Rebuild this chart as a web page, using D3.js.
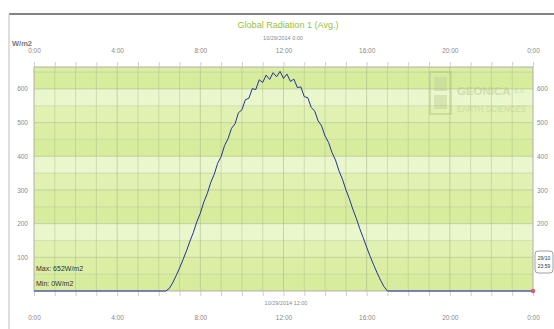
<!DOCTYPE html>
<html>
<head>
<meta charset="utf-8">
<script src="https://cdn.jsdelivr.net/npm/d3@7"></script>
<style>
body { margin: 0; background: #fff; }
svg { display: block; font-family: "Liberation Sans", Arial, sans-serif; }
</style>
</head>
<body>
<svg id="chart" width="554" height="329"></svg>
<script>
// data
var radTimes = ["00:00","06:20","06:30","06:40","06:50","07:00","07:10","07:20","07:30","07:40","07:50",
  "08:00","08:10","08:20","08:30","08:40","08:50","09:00","09:10","09:20","09:30","09:40","09:50",
  "10:00","10:10","10:20","10:30","10:40","10:50","11:00","11:10","11:20","11:30","11:40","11:50",
  "12:00","12:10","12:20","12:30","12:40","12:50","13:00","13:10","13:20","13:30","13:40","13:50",
  "14:00","14:10","14:20","14:30","14:40","14:50","15:00","15:10","15:20","15:30","15:40","15:50",
  "16:00","16:10","16:20","16:30","16:40","16:50","17:00","23:59"];
var radValues = [0,0,7,24,45,68,93,119,148,174,206,
  231,264,289,322,346,379,399,432,452,483,496,529,
  538,568,572,601,598,627,619,641,628,648,636,652,
  631,644,622,629,604,606,577,574,545,534,505,490,
  460,441,411,389,357,332,301,274,243,216,185,158,
  130,103,78,54,32,13,0,0];

var xTickHours = [0,4,8,12,16,20,24];
var xTickLabels = ["0:00","4:00","8:00","12:00","16:00","20:00","0:00"];
var yTicks = [100,200,300,400,500,600];
var yTicksRight = [200,300,400,500,600]; // 100 sits under the end-of-data box
var bandColors = ["#d8ec9e","#dbeea4","#e1f1b2","#eaf6cb"];

var svg = d3.select("#chart");
var plotLeft = 34, plotRight = 533, plotTop = 67, plotBottom = 291;

var x = d3.scaleLinear().domain([0, 24*60]).range([plotLeft, plotRight]);
var y = d3.scaleLinear().domain([0, 665]).range([plotBottom, plotTop]);

function toMin(s){ var p = s.split(":"); return +p[0]*60 + +p[1]; }
var data = radTimes.map(function(t,i){ return {t: toMin(t), v: radValues[i]}; });

// outer frame
svg.append("line").attr("x1",9).attr("x2",554).attr("y1",14).attr("y2",14)
  .attr("stroke","#5a5a5a").attr("stroke-width",1.5);
svg.append("line").attr("x1",9).attr("x2",9).attr("y1",14).attr("y2",329)
  .attr("stroke","#c8c8c8").attr("stroke-width",1.2);

// bands
var bands = d3.range(0, 665, 50);
svg.append("g").selectAll("rect")
  .data(bands)
  .enter()
  .append("rect")
    .attr("x", plotLeft)
    .attr("width", plotRight-plotLeft)
    .attr("y", function(d){ return y(Math.min(d+50, 665)); })
    .attr("height", function(d){ return y(d) - y(Math.min(d+50, 665)); })
    .attr("fill", function(d,i){ return bandColors[i % 4]; });

// watermark
var wm = svg.append("g").attr("opacity",0.5);
wm.append("rect").attr("x",430).attr("y",72).attr("width",21).attr("height",42)
  .attr("fill","none").attr("stroke","#b9c98e").attr("stroke-width",2);
wm.append("rect").attr("x",434).attr("y",77).attr("width",13).attr("height",14).attr("fill","#c2d399");
wm.append("rect").attr("x",434).attr("y",95).attr("width",13).attr("height",14).attr("fill","#c2d399");
wm.append("text").attr("x",457).attr("y",95).text("GEONICA")
  .attr("font-size",11.5).attr("font-weight","bold").attr("fill","#b9c98e");
wm.append("text").attr("x",514).attr("y",93).text("S.A.")
  .attr("font-size",6).attr("fill","#b9c98e");
wm.append("text").attr("x",457).attr("y",112).text("EARTH SCIENCES")
  .attr("font-size",9).attr("fill","#b9c98e")
  .attr("textLength",69).attr("lengthAdjust","spacingAndGlyphs");

// grid
var grid = svg.append("g").attr("stroke","#a3b784").attr("stroke-width",0.6);
grid.selectAll("line.h")
  .data(d3.range(50, 665, 50))
  .enter()
  .append("line")
    .attr("x1", plotLeft).attr("x2", plotRight)
    .attr("y1", function(d){ return y(d); }).attr("y2", function(d){ return y(d); })
    .attr("stroke-opacity", function(d){ return d % 100 == 0 ? 0.9 : 0.6; });
grid.selectAll("line.v")
  .data(d3.range(1, 24))
  .enter()
  .append("line")
    .attr("y1", plotTop).attr("y2", plotBottom)
    .attr("x1", function(d){ return x(d*60); }).attr("x2", function(d){ return x(d*60); })
    .attr("stroke-opacity", function(d){ return d % 4 == 0 ? 0.9 : 0.65; });

// plot border
svg.append("rect").attr("x",plotLeft).attr("y",plotTop).attr("width",plotRight-plotLeft).attr("height",plotBottom-plotTop)
  .attr("fill","none").attr("stroke","#a0a0a0").attr("stroke-width",0.8);

// axes
function styleAxis(g){
  g.select(".domain").remove();
  g.selectAll(".tick line").attr("stroke","#cfcfcf");
  g.selectAll("text").attr("fill","#8a8a8a").attr("font-size",6.5);
}
var hourTicks = d3.range(0, 25).map(function(h){ return h*60; });
function hourFmt(d){
  var i = xTickHours.indexOf(d/60);
  return i < 0 ? "" : xTickLabels[i];
}
svg.append("g").attr("transform","translate(0,"+plotTop+")")
  .call(d3.axisTop(x).tickValues(hourTicks).tickSize(5).tickPadding(9).tickFormat(hourFmt))
  .call(styleAxis);
svg.append("g").attr("transform","translate(0,"+plotBottom+")")
  .call(d3.axisBottom(x).tickValues(hourTicks).tickSize(5).tickPadding(19).tickFormat(hourFmt))
  .call(styleAxis);
svg.append("g").attr("transform","translate("+plotLeft+",0)")
  .call(d3.axisLeft(y).tickValues(yTicks).tickSize(0).tickPadding(6))
  .call(styleAxis);
svg.append("g").attr("transform","translate("+plotRight+",0)")
  .call(d3.axisRight(y).tickValues(yTicksRight).tickSize(0).tickPadding(4))
  .call(styleAxis);

// series line
var line = d3.line()
  .x(function(d){ return x(d.t); })
  .y(function(d){ return y(d.v); });
svg.append("path")
  .datum(data)
  .attr("d", line)
  .attr("fill","none")
  .attr("stroke","#23339a")
  .attr("stroke-width",1);

var last = data[data.length-1];
svg.append("circle").attr("cx", x(24*60)).attr("cy", y(last.v)).attr("r",2.2)
  .attr("fill","#e35a6a");

// titles
svg.append("text").attr("x",288).attr("y",28).attr("text-anchor","middle")
  .text("Global Radiation 1 (Avg.)")
  .attr("font-size",9).attr("fill","#94c43a")
  .attr("textLength",101).attr("lengthAdjust","spacingAndGlyphs");
svg.append("text").attr("x",283).attr("y",40).attr("text-anchor","middle")
  .text("10/29/2014 0:00").attr("font-size",5.5).attr("fill","#8a8a8a");
svg.append("text").attr("x",286).attr("y",305).attr("text-anchor","middle")
  .text("10/29/2014 12:00").attr("font-size",5.5).attr("fill","#8a8a8a");
svg.append("text").attr("x",12).attr("y",46)
  .text("W/m2").attr("font-size",7.5).attr("font-weight","bold").attr("fill","#777");

// max / min
var maxV = d3.max(radValues), minV = d3.min(radValues);
svg.append("text").attr("x",36).attr("y",271)
  .text("Max: " + maxV + "W/m2").attr("font-size",7).attr("fill","#333");
svg.append("text").attr("x",36).attr("y",286)
  .text("Min: " + minV + "W/m2").attr("font-size",7).attr("fill","#333");

// end-of-data box
var tip = svg.append("g");
tip.append("rect").attr("x",535).attr("y",251).attr("width",18).attr("height",22).attr("rx",3)
  .attr("fill","#fff").attr("stroke","#888").attr("stroke-width",0.8);
tip.append("text").attr("x",544).attr("y",260).attr("text-anchor","middle")
  .text("29/10").attr("font-size",5).attr("fill","#333");
tip.append("text").attr("x",544).attr("y",268).attr("text-anchor","middle")
  .text("23:59").attr("font-size",5).attr("fill","#333");
</script>
</body>
</html>
